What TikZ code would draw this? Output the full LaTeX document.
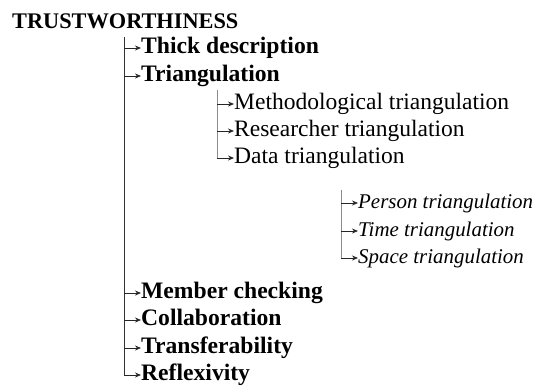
\documentclass[tikz,border=0pt]{standalone}
\usepackage{fontspec}
\setmainfont{Liberation Serif}
\usetikzlibrary{arrows.meta}
\begin{document}
\begin{tikzpicture}[x=1bp,y=-1bp,
  lbl/.style={anchor=west,inner sep=0pt,text height=16bp,text depth=5bp,font=\fontsize{23.6}{23.6}\selectfont},
  lvlone/.style={lbl,font=\fontsize{23.7}{23.7}\selectfont\bfseries},
  lvltwo/.style={lbl},
  lvlthree/.style={lbl,font=\fontsize{21}{21}\selectfont\itshape},
  branch/.style={-{Stealth[length=6bp,width=5bp]},line width=0.8bp,draw=black!85},
  trunk/.style={line width=0.8bp,draw=black!80},
  subtrunk/.style={line width=0.9bp,draw=black!45}]
\useasboundingbox (0,0) rectangle (536,391);
\node[anchor=base west,inner sep=0pt,font=\fontsize{22.4}{22.4}\selectfont\bfseries] (root) at (12,28) {TRUSTWORTHINESS};
% level 1
\coordinate (t0) at (124,37);
\node[lvlone] (thick) at (141,48) {Thick description};
\node[lvlone] (tri) at (141,76) {Triangulation};
\node[lvlone] (member) at (141,293) {Member checking};
\node[lvlone] (collab) at (141,320) {Collaboration};
\node[lvlone] (transf) at (141,348) {Transferability};
\node[lvlone] (refl) at (141,375) {Reflexivity};
% level 2
\coordinate (t1) at (217,90);
\node[lvltwo] (meth) at (234,104) {Methodological triangulation};
\node[lvltwo] (res) at (234,131) {Researcher triangulation};
\node[lvltwo] (data) at (234,158) {Data triangulation};
% level 3
\coordinate (t2) at (341,190);
\node[lvlthree] (person) at (358,203) {Person triangulation};
\node[lvlthree] (time) at (358,231) {Time triangulation};
\node[lvlthree] (space) at (358,258) {Space triangulation};
% trunks
\draw[trunk] (t0) -- (t0 |- refl.west);
\draw[subtrunk] (t1) -- (t1 |- data.west);
\draw[subtrunk] (t2) -- (t2 |- space.west);
% branches
\foreach \n in {thick,tri,member,collab,transf,refl}
  \draw[branch] (t0 |- \n.west) -- (\n.west);
\foreach \n in {meth,res,data}
  \draw[branch] (t1 |- \n.west) -- (\n.west);
\foreach \n in {person,time,space}
  \draw[branch] (t2 |- \n.west) -- (\n.west);
\end{tikzpicture}
\end{document}
